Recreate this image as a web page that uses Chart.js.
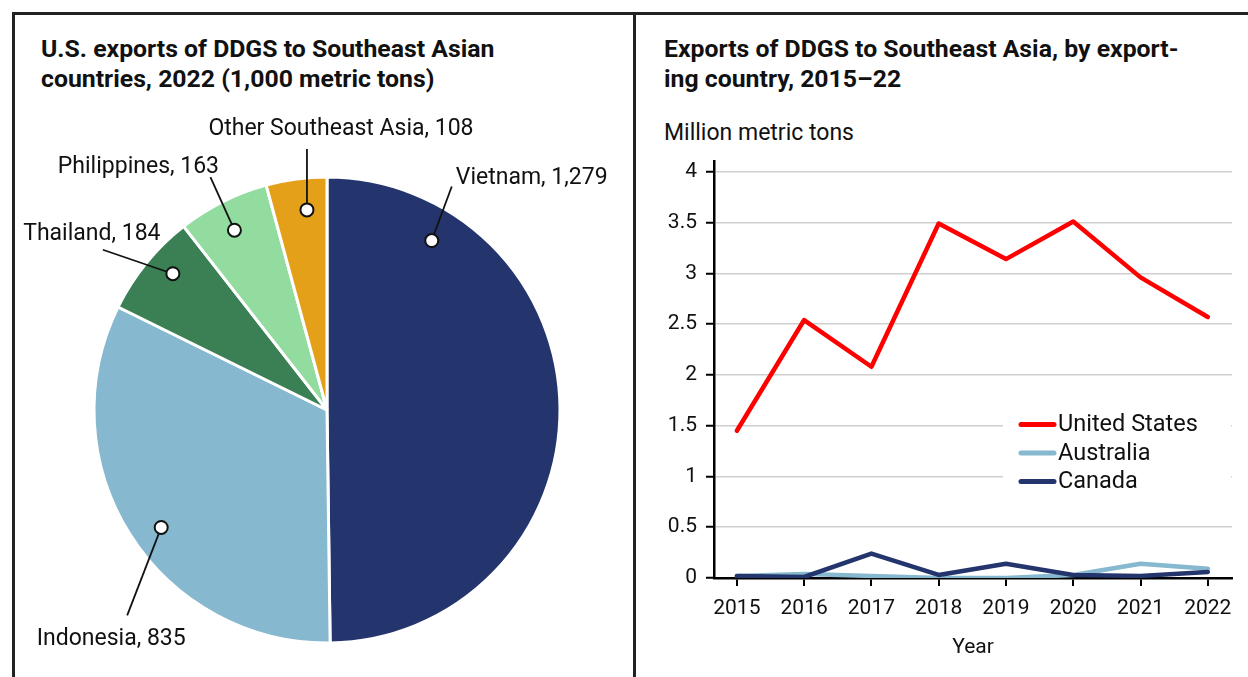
<!DOCTYPE html>
<html>
<head>
<meta charset="utf-8">
<script src="https://cdn.jsdelivr.net/npm/chart.js@4.4.0/dist/chart.umd.min.js"></script>
<style>
  body { margin: 0; width: 1248px; height: 677px; overflow: hidden; background: #fff; position: relative;
         font-family: Roboto, sans-serif; color: #111; }
  .rule { position: absolute; background: #222; }
  .title { position: absolute; font-weight: 700; font-size: 24.8px; line-height: 30px; margin: 0; }
  #pieTitle { left: 41px; top: 34px; }
  #lineTitle { left: 664px; top: 34px; }
  #unit { position: absolute; left: 664px; top: 120px; font-size: 23px; line-height: 26px; }
  #pieWrap { position: absolute; left: 14px; top: 100px; width: 619px; height: 577px; }
  #lineWrap { position: absolute; left: 640px; top: 140px; width: 608px; height: 537px; }
</style>
</head>
<body>
<div class="rule" style="left:12px;top:12px;width:1236px;height:2.6px"></div>
<div class="rule" style="left:12px;top:12px;width:2.5px;height:665px"></div>
<div class="rule" style="left:633px;top:12px;width:3px;height:665px"></div>

<h2 class="title" id="pieTitle">U.S. exports of DDGS to Southeast Asian<br>countries, 2022 (1,000 metric tons)</h2>
<h2 class="title" id="lineTitle">Exports of DDGS to Southeast Asia, by export-<br>ing country, 2015–22</h2>
<div id="unit">Million metric tons</div>

<div id="pieWrap"><canvas id="pieChart"></canvas></div>
<div id="lineWrap"><canvas id="lineChart"></canvas></div>

<script>
// ================= DATA =================
const pieLabels = ["Vietnam", "Indonesia", "Thailand", "Philippines", "Other Southeast Asia"];
const pieValues = [1279, 835, 184, 163, 108];
const pieColors = ["#24346c", "#86b8cf", "#3b8054", "#93dca0", "#e5a019"];

const years = [2015, 2016, 2017, 2018, 2019, 2020, 2021, 2022];
const usValues = [1.45, 2.54, 2.08, 3.49, 3.14, 3.51, 2.96, 2.57];
const australiaValues = [0.02, 0.04, 0.02, 0.0, 0.0, 0.03, 0.14, 0.09];
const canadaValues = [0.02, 0.01, 0.24, 0.03, 0.14, 0.03, 0.02, 0.06];
const yTicks = [0, 0.5, 1, 1.5, 2, 2.5, 3, 3.5, 4];

Chart.defaults.font.family = "Roboto, sans-serif";
Chart.defaults.color = "#111";

// ================= PIE CALLOUTS =================
// where the dot sits inside each slice, and where its leader line / text go
const calloutStyle = [
  { at: 0.177, rf: 0.855, line: [20, -54], text: [24, -62], align: "left" },
  { at: 0.474, rf: 0.872, line: [-34, 88], text: [-50, 112], align: "center" },
  { at: 0.591, rf: 0.883, line: [-70, -24], text: [-81, -39], align: "center" },
  { at: 0.47, rf: 0.868, line: [-24, -53], text: [-96, -63], align: "center" },
  { at: 0.622, rf: 0.863, line: [0, -61], text: [34, -81], align: "center" }
];

const pieCallouts = {
  id: "pieCallouts",
  afterDatasetsDraw(chart) {
    const ctx = chart.ctx;
    const arcs = chart.getDatasetMeta(0).data;
    ctx.save();
    arcs.forEach((arc, i) => {
      const s = calloutStyle[i];
      const a = arc.startAngle + s.at * (arc.endAngle - arc.startAngle);
      const px = arc.x + Math.cos(a) * arc.outerRadius * s.rf;
      const py = arc.y + Math.sin(a) * arc.outerRadius * s.rf;

      ctx.strokeStyle = "#111";
      ctx.lineWidth = 1.8;
      ctx.beginPath();
      ctx.moveTo(px, py);
      ctx.lineTo(px + s.line[0], py + s.line[1]);
      ctx.stroke();

      ctx.beginPath();
      ctx.arc(px, py, 6.5, 0, Math.PI * 2);
      ctx.fillStyle = "#fff";
      ctx.fill();
      ctx.lineWidth = 2;
      ctx.stroke();

      ctx.fillStyle = "#111";
      ctx.font = "23px Roboto, sans-serif";
      ctx.textAlign = s.align;
      ctx.textBaseline = "middle";
      ctx.fillText(pieLabels[i] + ", " + pieValues[i].toLocaleString("en-US"), px + s.text[0], py + s.text[1]);
    });
    ctx.restore();
  }
};

new Chart(document.getElementById("pieChart"), {
  type: "pie",
  data: {
    labels: pieLabels,
    datasets: [{ data: pieValues, backgroundColor: pieColors, borderColor: "#fff", borderWidth: 3, hoverOffset: 0 }]
  },
  options: {
    responsive: true,
    maintainAspectRatio: false,
    animation: false,
    radius: 233,
    layout: { padding: { left: 40, right: 33, top: 60, bottom: 17 } },
    plugins: { legend: { display: false }, tooltip: { enabled: false } }
  },
  plugins: [pieCallouts]
});

// ================= LINE CHART =================
const lineLegend = {
  id: "lineLegend",
  afterDraw(chart) {
    const { ctx, chartArea } = chart;
    const left = chartArea.right - 229;
    const top = chartArea.top + 247;
    ctx.save();
    ctx.fillStyle = "#fff";
    ctx.fillRect(left, top, 228, 88);
    chart.data.datasets.forEach((ds, i) => {
      const y = top + 16 + i * 28.5;
      ctx.strokeStyle = ds.borderColor;
      ctx.lineWidth = 5;
      ctx.lineCap = "round";
      ctx.beginPath();
      ctx.moveTo(left + 18, y);
      ctx.lineTo(left + 51, y);
      ctx.stroke();
      ctx.fillStyle = "#111";
      ctx.font = "23.5px Roboto, sans-serif";
      ctx.textAlign = "left";
      ctx.textBaseline = "middle";
      ctx.fillText(ds.label, left + 55, y + 1);
    });
    ctx.restore();
  }
};

const toPoints = values => years.map((yr, i) => ({ x: yr, y: values[i] }));
const tickFont = { family: "Roboto, sans-serif", size: 21 };

new Chart(document.getElementById("lineChart"), {
  type: "line",
  data: {
    datasets: [
      { label: "United States", data: toPoints(usValues), borderColor: "#ff0000", order: 0 },
      { label: "Australia", data: toPoints(australiaValues), borderColor: "#86b8cf", order: 2 },
      { label: "Canada", data: toPoints(canadaValues), borderColor: "#24346c", order: 1 }
    ]
  },
  options: {
    responsive: true,
    maintainAspectRatio: false,
    animation: false,
    layout: { padding: { left: 0, right: 16, top: 17.75, bottom: 0 } },
    elements: {
      line: { borderWidth: 4.5, borderCapStyle: "round", borderJoinStyle: "round", tension: 0 },
      point: { radius: 0, hoverRadius: 0 }
    },
    plugins: { legend: { display: false }, tooltip: { enabled: false } },
    scales: {
      x: {
        type: "linear",
        min: 2014.66,
        max: 2022.36,
        afterBuildTicks: s => { s.ticks = years.map(v => ({ value: v })); },
        afterFit: s => { s.height = 99; },
        grid: { drawOnChartArea: false, tickLength: 8, tickColor: "#000", lineWidth: 2 },
        border: { color: "#000", width: 2.5 },
        ticks: { font: tickFont, color: "#111", padding: 10, maxRotation: 0, callback: v => String(v) },
        title: { display: true, text: "Year", font: tickFont, color: "#111", padding: { top: 0, bottom: 17 } }
      },
      y: {
        min: 0,
        max: 4.1,
        afterBuildTicks: s => { s.ticks = yTicks.map(v => ({ value: v })); },
        afterFit: s => { s.width = 74; },
        grid: { color: "#cfcfcf", lineWidth: 1.5, tickLength: 8, tickColor: "#000", tickWidth: 2 },
        border: { color: "#000", width: 2.5 },
        ticks: { font: tickFont, color: "#111", padding: 9, callback: v => String(v) }
      }
    }
  },
  plugins: [lineLegend]
});
</script>
</body>
</html>
